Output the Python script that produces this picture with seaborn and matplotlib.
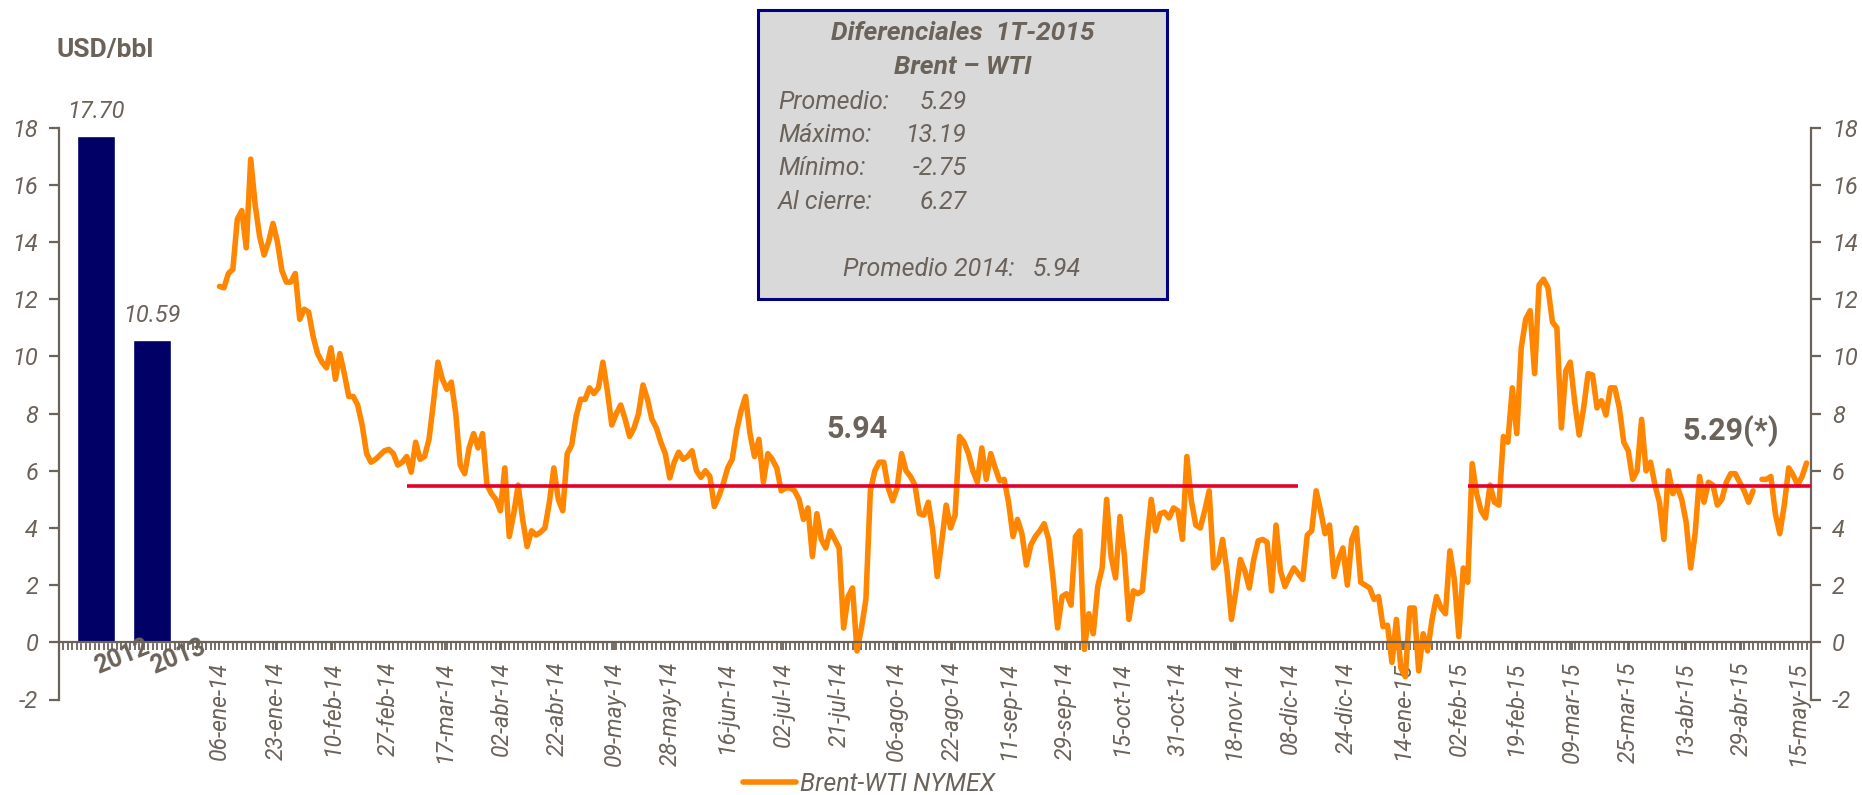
import numpy as np
import pandas as pd
import matplotlib
matplotlib.use('Agg')
import matplotlib.pyplot as plt
import seaborn as sns
from matplotlib.patches import Rectangle
from matplotlib.lines import Line2D

# --- Datos ---
# promedios anuales (barras)
years = ['2012', '2013']
year_values = [17.70, 10.59]

# diferencial diario Brent-WTI (USD/bbl), 06-ene-14 ... may-15
spread = [
    12.45, 12.4, 12.9, 13.05, 14.8, 15.1, 13.8, 16.9, 15.3, 14.2,
    13.55, 14.0, 14.65, 14.0, 13.0, 12.6, 12.6, 12.9, 11.3, 11.65,
    11.55, 10.7, 10.1, 9.8, 9.6, 10.3, 9.2, 10.1, 9.4, 8.6,
    8.6, 8.3, 7.6, 6.6, 6.3, 6.4, 6.55, 6.7, 6.75, 6.6,
    6.2, 6.3, 6.5, 5.95,
    7.0, 6.4, 6.5, 7.1, 8.4, 9.8, 9.2, 8.85, 9.1, 8.0,
    6.2, 5.9, 6.8, 7.3, 6.8, 7.3, 5.5, 5.2, 5.0, 4.6,
    6.1, 3.7, 4.5, 5.5, 4.3, 3.35, 3.9, 3.75, 3.85, 4.0,
    4.9, 6.1, 5.0, 4.6, 6.6, 6.9, 7.9, 8.5, 8.5, 8.9,
    8.7, 8.9, 9.8, 8.8, 7.6,
    8.0, 8.3, 7.8, 7.2, 7.5, 8.0, 9.0, 8.5, 7.8, 7.5,
    7.0, 6.6, 5.75, 6.3, 6.65, 6.4, 6.5, 6.7, 6.0, 5.77,
    6.0, 5.8, 4.75, 5.1, 5.55, 6.1, 6.4, 7.4, 8.1, 8.6,
    7.3, 6.5, 7.1, 5.6, 6.6, 6.4, 6.1, 5.3, 5.4, 5.4,
    5.3, 5.0, 4.3, 4.7, 3.0,
    4.5, 3.6, 3.3, 3.9, 3.6, 3.3, 0.5, 1.6, 1.9, -0.3,
    0.5, 1.5, 5.3, 6.0, 6.3, 6.3, 5.4, 4.95, 5.4, 6.6,
    6.0, 5.8, 5.5, 4.5, 4.45, 4.9, 3.9, 2.3, 3.5, 4.8,
    4.0, 4.45, 7.2, 7.0, 6.6, 6.0, 5.6, 6.8, 5.7, 6.6,
    6.1, 5.65, 5.7, 4.9, 3.7,
    4.3, 3.8, 2.7, 3.4, 3.7, 3.9, 4.15, 3.6, 2.2, 0.5,
    1.6, 1.7, 1.3, 3.7, 3.9, -0.25, 1.0, 0.3, 1.95, 2.6,
    5.0, 3.0, 2.25, 4.4, 3.0, 0.8, 1.8, 1.7, 1.8, 3.5,
    5.0, 3.9, 4.5, 4.55, 4.35, 4.7, 4.6, 3.6, 6.5, 4.95,
    4.1, 4.0, 4.6, 5.3, 2.6,
    2.8, 3.6, 2.5, 0.8, 1.8, 2.9, 2.5, 1.9, 2.9, 3.55,
    3.6, 3.5, 1.8, 4.1, 2.5, 1.95, 2.3, 2.6, 2.4, 2.2,
    3.75, 3.9, 5.3, 4.6, 3.8, 4.1, 2.3, 2.9, 3.3, 2.0,
    3.6, 4.0, 2.1, 2.0, 1.9, 1.5, 1.6, 0.55, 0.6, -0.7,
    0.8, -0.9, -1.2, 1.2,
    1.2, -1.0, 0.3, -0.3, 0.8, 1.6, 1.2, 1.0, 3.2, 2.2,
    0.2, 2.6, 2.1, 6.25, 5.2, 4.6, 4.35, 5.5, 4.9, 4.8,
    7.2, 7.0, 8.9, 7.3, 10.3, 11.3, 11.6, 9.4, 12.5, 12.7,
    12.4, 11.2, 11.0, 7.5, 9.5, 9.8, 8.4, 7.25, 8.2, 9.4,
    9.35, 8.2, 8.45, 7.95, 8.9,
    8.9, 8.2, 7.0, 6.7, 5.7, 6.0, 7.8, 6.0, 6.3, 5.5,
    4.9, 3.6, 6.0, 5.2, 5.45, 5.0, 4.2, 2.6, 3.8, 5.8,
    4.9, 5.6, 5.5, 4.8, 5.0, 5.6, 5.9, 5.9, 5.6, 5.3,
    4.9, 5.3, np.nan, 5.7, 5.7, 5.8, 4.5, 3.8, 4.8, 6.1,
    5.85, 5.5, 5.8, 6.27,
]

date_labels = [
    '06-ene-14', '23-ene-14', '10-feb-14', '27-feb-14', '17-mar-14', '02-abr-14',
    '22-abr-14', '09-may-14', '28-may-14', '16-jun-14', '02-jul-14', '21-jul-14',
    '06-ago-14', '22-ago-14', '11-sep-14', '29-sep-14', '15-oct-14', '31-oct-14',
    '18-nov-14', '08-dic-14', '24-dic-14', '14-ene-15', '02-feb-15', '19-feb-15',
    '09-mar-15', '25-mar-15', '13-abr-15', '29-abr-15', '15-may-15',
]

# lineas de promedio (nivel dibujado y tramo en dias)
avg_level = 5.48
avg_2014_span = (42, 242)
avg_2015_span = (280, 357)
avg_2014_text = '5.94'
avg_2015_text = '5.29(*)'

box_title = ['Diferenciales  1T-2015', 'Brent – WTI']
box_rows = [('Promedio:', '5.29'), ('Máximo:', '13.19'),
            ('Mínimo:', '-2.75'), ('Al cierre:', '6.27')]
box_footer = 'Promedio 2014:   5.94'

# --- Estilo ---
GREY = '#6b625a'
ORANGE = '#ff8600'
NAVY = '#000066'
RED = '#e4002b'

sns.set_style('white')
plt.rcParams['font.family'] = ['Roboto', 'DejaVu Sans']

W, H = 1862, 795
fig = plt.figure(figsize=(W / 100, H / 100), dpi=100)
ax = fig.add_axes([59 / W, 1 - 699.5 / H, (1811 - 59) / W, (699.5 - 127.7) / H])


def fx(x):
    return x / W


def fy(y):
    return 1 - y / H


# barras 2012 / 2013 a la izquierda de la serie diaria
bar_pos = [-27.7, -15.1]
sns.barplot(x=bar_pos, y=year_values, native_scale=True, width=0.675,
            color=NAVY, saturation=1, errorbar=None, ax=ax)
for p, v, yr in zip(bar_pos, year_values, years):
    ax.text(p, v + 0.45, f'{v:.2f}', ha='center', va='bottom', fontsize=17,
            fontstyle='italic', color=GREY)
    ax.text(p + 5.8, -0.5, yr, ha='center', va='center', rotation=22,
            fontsize=18, fontweight='bold', color=GREY, zorder=10, clip_on=False)

# serie diaria (con hueco donde falta el dato)
df = pd.DataFrame({'dia': np.arange(len(spread)), 'spread': spread})
df['tramo'] = df['spread'].isna().cumsum()
sns.lineplot(data=df.dropna(), x='dia', y='spread', units='tramo', estimator=None,
             color=ORANGE, lw=4, ax=ax, legend=False,
             solid_joinstyle='round', solid_capstyle='round')

# promedios
ax.hlines(avg_level, *avg_2014_span, color=RED, lw=2.6, zorder=3)
ax.hlines(avg_level, *avg_2015_span, color=RED, lw=2.6, zorder=3)
ax.text(143, 7.45, avg_2014_text, ha='center', va='center', fontsize=22,
        fontweight='bold', color=GREY)
ax.text(339, 7.4, avg_2015_text, ha='center', va='center', fontsize=22,
        fontweight='bold', color=GREY)

# ejes
ax.set_xlim(-36, 357)
ax.set_ylim(-2, 18)
ax.set_xlabel('')
ax.set_ylabel('')
ax.spines['top'].set_visible(False)
ax.spines['bottom'].set_position(('data', 0))
for s in ['left', 'right', 'bottom']:
    ax.spines[s].set_color(GREY)
    ax.spines[s].set_linewidth(1.6)

yt = list(range(-2, 19, 2))
ax.set_yticks(yt)
ax.set_yticklabels([str(t) for t in yt], fontsize=17, fontstyle='italic', color=GREY)
ax.tick_params(axis='y', which='major', direction='out', length=7, width=1.6,
               color=GREY, left=True, right=True, labelleft=True, labelright=True, pad=8)

label_pos = np.linspace(0, 354, len(date_labels))
ax.set_xticks(label_pos)
ax.set_xticklabels(date_labels, rotation=90, fontsize=16.5, fontstyle='italic',
                   color=GREY, va='top', ha='center')
ax.set_xticks(np.arange(-36, 357), minor=True)
ax.tick_params(axis='x', which='both', direction='out', length=6, width=1.3,
               color=GREY, bottom=True, pad=8)
ax.grid(False)

# titulo de eje
fig.text(fx(56), fy(50), 'USD/bbl', ha='left', va='center', fontsize=19,
         fontweight='bold', color=GREY)

# recuadro de resumen
fig.add_artist(Rectangle((fx(758), fy(299)), (1167 - 758) / W, (299 - 9.5) / H,
                         transform=fig.transFigure, facecolor='#d9d9d9',
                         edgecolor='#000080', lw=2.2, zorder=5))
for t, y in zip(box_title, [33, 67]):
    fig.text(fx(963), fy(y), t, ha='center', va='center', fontsize=19,
             fontweight='bold', fontstyle='italic', color=GREY, zorder=6)
for (lab, val), y in zip(box_rows, [102, 135, 168, 202]):
    fig.text(fx(778), fy(y), lab, ha='left', va='center', fontsize=18,
             fontstyle='italic', color=GREY, zorder=6)
    fig.text(fx(967), fy(y), val, ha='right', va='center', fontsize=18,
             fontstyle='italic', color=GREY, zorder=6)
fig.text(fx(962), fy(269), box_footer, ha='center', va='center', fontsize=18,
         fontstyle='italic', color=GREY, zorder=6)

# leyenda
handle = Line2D([], [], color=ORANGE, lw=4)
leg = fig.legend([handle], ['Brent-WTI NYMEX'], loc='center',
                 bbox_to_anchor=(fx(869), fy(784)), frameon=False,
                 handlelength=2.1, handletextpad=0.15, borderpad=0,
                 prop={'size': 18, 'style': 'italic'})
for t in leg.get_texts():
    t.set_color(GREY)

fig.savefig('out.png', dpi=100)
